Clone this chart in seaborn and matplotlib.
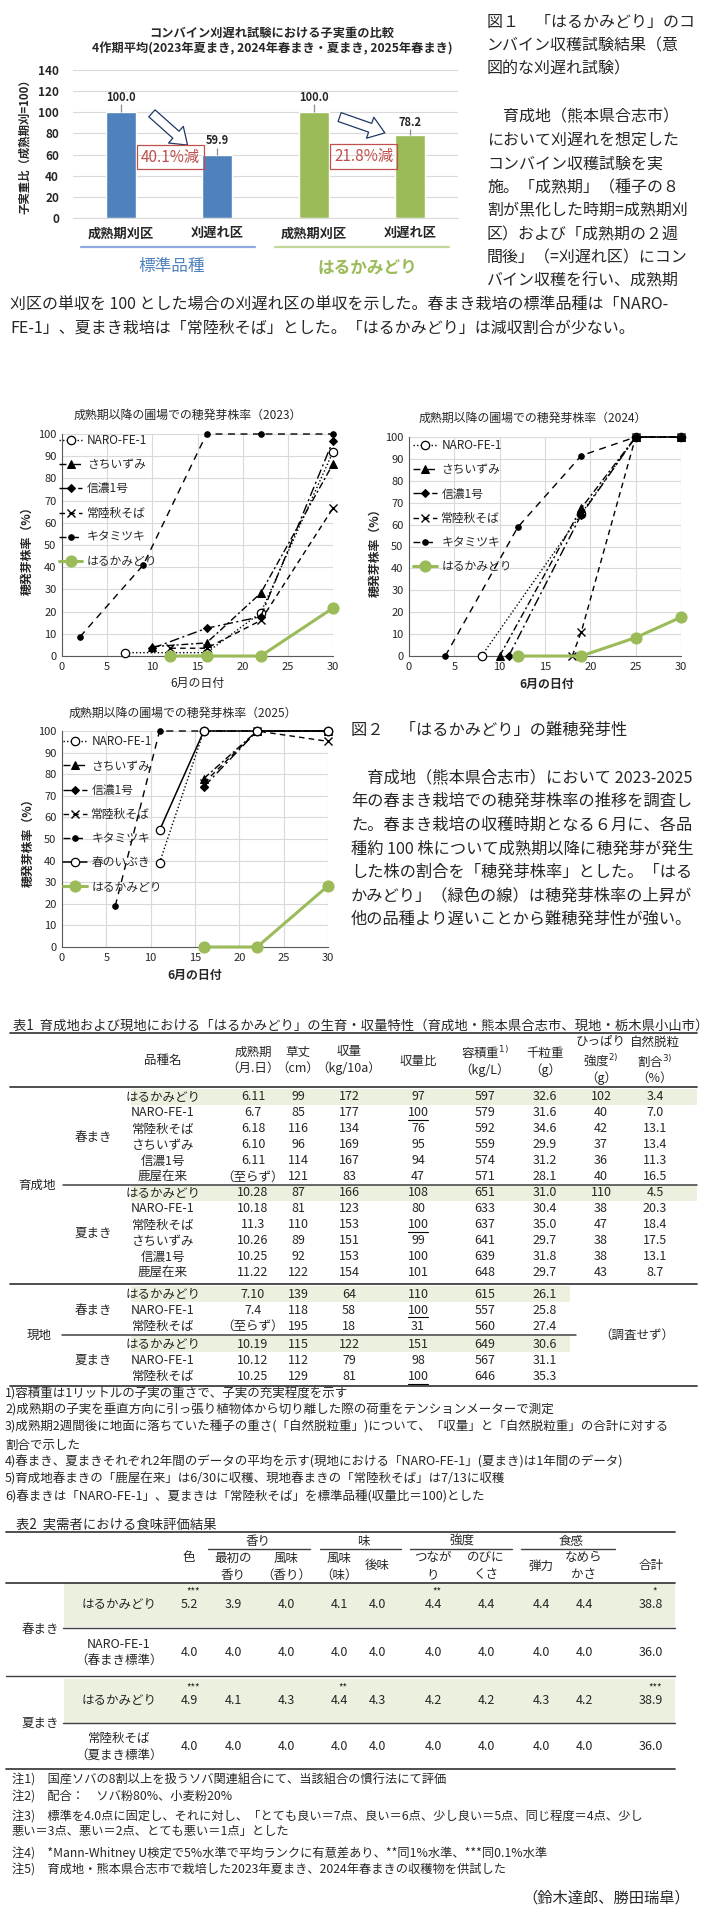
import numpy as np
import matplotlib
matplotlib.use('Agg')
import matplotlib.pyplot as plt
import seaborn as sns
from matplotlib.lines import Line2D
from matplotlib.patches import Rectangle

sns.set_style('white')
plt.rcParams['font.family'] = ['Noto Sans CJK JP', 'DejaVu Sans']
plt.rcParams['mathtext.fontset'] = 'dejavusans'
plt.rcParams['axes.unicode_minus'] = False

BLUE = '#4F81BD'
GREEN = '#9BBB59'
SHADE = '#EBF1DE'
RED = '#C0504D'
GRID = '#D9D9D9'
RULE = '#404040'

# ---------------- 図1 data
bar_keys = ['std_mature', 'std_late', 'haru_mature', 'haru_late']
bar_names = ['成熟期刈区', '刈遅れ区', '成熟期刈区', '刈遅れ区']
bar_values = [100.0, 59.9, 100.0, 78.2]
bar_err = [7.5, 6.5, 7.5, 6.0]
bar_colors = [BLUE, BLUE, GREEN, GREEN]
group_names = ['標準品種', 'はるかみどり']

# ---------------- 図2 data (6月の日付, 穂発芽株率 %)
x23_naro = [7, 16, 22, 30];          r23_naro = [1.5, 1.5, 19.5, 92]
x23_sachi = [10, 16, 22, 30];        r23_sachi = [4.2, 5.9, 28.3, 86.5]
x23_shinano = [10, 16, 22, 30];      r23_shinano = [3.5, 12.5, 17.7, 97]
x23_hitachi = [12, 16, 22, 30];      r23_hitachi = [3.5, 3.5, 16, 66.6]
x23_kita = [2, 9, 16, 22, 30];       r23_kita = [8.7, 41, 100, 100, 100]
x23_haru = [12, 16, 22, 30];         r23_haru = [0, 0, 0, 21.6]

x24_naro = [8, 19, 25, 30];          r24_naro = [0, 65, 100, 100]
x24_sachi = [10, 19, 25, 30];        r24_sachi = [0, 67.5, 100, 100]
x24_shinano = [11, 19, 25, 30];      r24_shinano = [0, 64.5, 100, 100]
x24_hitachi = [18, 19, 25, 30];      r24_hitachi = [0, 11, 100, 100]
x24_kita = [4, 12, 19, 25, 30];      r24_kita = [0, 58.8, 91.5, 100, 100]
x24_haru = [12, 19, 25, 30];         r24_haru = [0, 0, 8.4, 17.7]

x25_naro = [11, 16, 22, 30];         r25_naro = [39, 100, 100, 100]
x25_sachi = [16, 22, 30];            r25_sachi = [78, 100, 100]
x25_shinano = [16, 22, 30];          r25_shinano = [74.2, 100, 100]
x25_hitachi = [16, 22, 30];          r25_hitachi = [76, 100, 95.2]
x25_kita = [6, 11, 16, 22, 30];      r25_kita = [18.9, 100, 100, 100, 100]
x25_haruibuki = [11, 16, 22, 30];    r25_haruibuki = [54, 100, 100, 100]
x25_haru = [16, 22, 30];             r25_haru = [0, 0, 28.3]

STYLE = {
    'NARO-FE-1': dict(color='black', lw=1.0, linestyle=(0, (1, 1.6)), marker='o', ms=6,
                      mfc='white', mec='black', mew=0.9),
    'さちいずみ': dict(color='black', lw=1.0, linestyle=(0, (5, 2, 1.5, 2)), marker='^', ms=5.5,
                    mfc='black', mec='black'),
    '信濃1号': dict(color='black', lw=1.0, linestyle=(0, (7, 2.5, 1.5, 2.5)), marker='D', ms=4.2,
                  mfc='black', mec='black'),
    '常陸秋そば': dict(color='black', lw=1.0, linestyle=(0, (4, 3)), marker='x', ms=6,
                   mec='black', mew=1.0),
    'キタミツキ': dict(color='black', lw=1.0, linestyle=(0, (5, 4)), marker='o', ms=4,
                   mfc='black', mec='black'),
    '春のいぶき': dict(color='black', lw=1.1, linestyle='-', marker='o', ms=6,
                   mfc='white', mec='black', mew=0.9),
    'はるかみどり': dict(color=GREEN, lw=2.2, linestyle='-', marker='o', ms=8,
                     mfc=GREEN, mec=GREEN),
}

# ---------------- 表1 data
t1_names = ['はるかみどり', 'NARO-FE-1', '常陸秋そば', 'さちいずみ', '信濃1号', '鹿屋在来']
t1_sp_mat = ['6.11', '6.7', '6.18', '6.10', '6.11', '（至らず）']
t1_sp_len = [99, 85, 116, 96, 114, 121]
t1_sp_yld = [172, 177, 134, 169, 167, 83]
t1_sp_rat = [97, 100, 76, 95, 94, 47]
t1_sp_vol = [597, 579, 592, 559, 574, 571]
t1_sp_tkw = [32.6, 31.6, 34.6, 29.9, 31.2, 28.1]
t1_sp_pul = [102, 40, 42, 37, 36, 40]
t1_sp_sht = [3.4, 7.0, 13.1, 13.4, 11.3, 16.5]

t1_su_mat = ['10.28', '10.18', '11.3', '10.26', '10.25', '11.22']
t1_su_len = [87, 81, 110, 89, 92, 122]
t1_su_yld = [166, 123, 153, 151, 153, 154]
t1_su_rat = [108, 80, 100, 99, 100, 101]
t1_su_vol = [651, 633, 637, 641, 639, 648]
t1_su_tkw = [31.0, 30.4, 35.0, 29.7, 31.8, 29.7]
t1_su_pul = [110, 38, 47, 38, 38, 43]
t1_su_sht = [4.5, 20.3, 18.4, 17.5, 13.1, 8.7]

t1_local_names = ['はるかみどり', 'NARO-FE-1', '常陸秋そば']
t1_lsp_mat = ['7.10', '7.4', '（至らず）']
t1_lsp_len = [139, 118, 195]
t1_lsp_yld = [64, 58, 18]
t1_lsp_rat = [110, 100, 31]
t1_lsp_vol = [615, 557, 560]
t1_lsp_tkw = [26.1, 25.8, 27.4]
t1_lsu_mat = ['10.19', '10.12', '10.25']
t1_lsu_len = [115, 112, 129]
t1_lsu_yld = [122, 79, 81]
t1_lsu_rat = [151, 98, 100]
t1_lsu_vol = [649, 567, 646]
t1_lsu_tkw = [30.6, 31.1, 35.3]
std_spring = 'NARO-FE-1'
std_summer = '常陸秋そば'

t1_notes = [
    '1)容積重は1リットルの子実の重さで、子実の充実程度を示す',
    '2)成熟期の子実を垂直方向に引っ張り植物体から切り離した際の荷重をテンションメーターで測定',
    '3)成熟期2週間後に地面に落ちていた種子の重さ(「自然脱粒重」)について、「収量」と「自然脱粒重」の合計に対する',
    '割合で示した',
    '4)春まき、夏まきそれぞれ2年間のデータの平均を示す(現地における「NARO-FE-1」(夏まき)は1年間のデータ)',
    '5)育成地春まきの「鹿屋在来」は6/30に収穫、現地春まきの「常陸秋そば」は7/13に収穫',
    '6)春まきは「NARO-FE-1」、夏まきは「常陸秋そば」を標準品種(収量比＝100)とした',
]

# ---------------- 表2 data
t2_labels = ['はるかみどり', 'NARO-FE-1\n（春まき標準）', 'はるかみどり', '常陸秋そば\n（夏まき標準）']
t2_spring_haru = [5.2, 3.9, 4.0, 4.1, 4.0, 4.4, 4.4, 4.4, 4.4, 38.8]
t2_spring_std = [4.0, 4.0, 4.0, 4.0, 4.0, 4.0, 4.0, 4.0, 4.0, 36.0]
t2_summer_haru = [4.9, 4.1, 4.3, 4.4, 4.3, 4.2, 4.2, 4.3, 4.2, 38.9]
t2_summer_std = [4.0, 4.0, 4.0, 4.0, 4.0, 4.0, 4.0, 4.0, 4.0, 36.0]
t2_spring_sig = {0: '***', 5: '**', 9: '*'}
t2_summer_sig = {0: '***', 3: '**', 9: '***'}
t2_notes = [
    '注1)　国産ソバの8割以上を扱うソバ関連組合にて、当該組合の慣行法にて評価',
    '注2)　配合：　ソバ粉80%、小麦粉20%',
    '注3)　標準を4.0点に固定し、それに対し、「とても良い＝7点、良い＝6点、少し良い＝5点、同じ程度＝4点、少し',
    '悪い＝3点、悪い＝2点、とても悪い＝1点」とした',
    '注4)　*Mann-Whitney U検定で5%水準で平均ランクに有意差あり、**同1%水準、***同0.1%水準',
    '注5)　育成地・熊本県合志市で栽培した2023年夏まき、2024年春まきの収穫物を供試した',
]

# ================= page helpers (pixel coords from top-left)
W, H = 705, 1920
fig = plt.figure(figsize=(W / 100, H / 100), dpi=100)
fig.patch.set_facecolor('white')


def put(x, y, s, size=9, ha='left', va='center', **kw):
    return fig.text(x / W, 1 - y / H, s, fontsize=size, ha=ha, va=va, **kw)


def hline(y, x0, x1, lw=1.0, color=RULE):
    fig.add_artist(Line2D([x0 / W, x1 / W], [1 - y / H, 1 - y / H], lw=lw, color=color))


def shade(x0, x1, y0, y1, color=SHADE):
    fig.add_artist(Rectangle((x0 / W, 1 - y1 / H), (x1 - x0) / W, (y1 - y0) / H,
                             facecolor=color, edgecolor='none', zorder=0))


def add_ax(x0, y0, x1, y1):
    return fig.add_axes([x0 / W, 1 - y1 / H, (x1 - x0) / W, (y1 - y0) / H])


# ================= 図1 bar chart
ax = add_ax(73, 70, 458, 218)
sns.barplot(x=bar_keys, y=bar_values, hue=bar_keys, palette=bar_colors, width=0.31,
            saturation=1, legend=False, ax=ax, zorder=2)
ax.errorbar(np.arange(len(bar_values)), bar_values, yerr=[np.zeros(len(bar_err)), bar_err],
            fmt='none', ecolor='#8C8C8C', elinewidth=0.9, capsize=0, zorder=3)
for i, (v, e) in enumerate(zip(bar_values, bar_err)):
    ax.text(i, v + e + 0.3, f'{v:.1f}', ha='center', va='bottom', fontsize=8, fontweight='bold')
ax.set_ylim(0, 140)
ax.set_xlim(-0.5, 3.5)
ax.set_yticks(range(0, 141, 20))
ax.set_xticks(range(len(bar_names)))
ax.set_xticklabels(bar_names, fontsize=9.5, fontweight='bold')
for lab in ax.get_yticklabels():
    lab.set_fontweight('bold')
    lab.set_fontsize(8.5)
ax.yaxis.grid(True, color=GRID, lw=0.8)
ax.set_axisbelow(True)
for s in ax.spines.values():
    s.set_visible(False)
ax.spines['bottom'].set_visible(True)
ax.spines['bottom'].set_color(GRID)
ax.tick_params(axis='y', length=0, pad=10)
ax.tick_params(axis='x', length=0, pad=6)
ax.set_xlabel('')
ax.set_ylabel('子実重比（成熟期刈=100）', fontsize=8.2, fontweight='bold')
ax.yaxis.set_label_coords(-0.11, 0.5)

# reduction arrows and boxes
arrow_from = [(0.32, 99), (2.27, 95.5)]
arrow_to = [(0.69, 69), (2.74, 80.5)]
box_pos = [(0.51, 57.7), (2.52, 58.2)]
for (xa, ya), (xb, yb) in zip(arrow_from, arrow_to):
    ax.annotate('', xy=(xb, yb), xytext=(xa, ya),
                arrowprops=dict(arrowstyle='simple,head_length=0.7,head_width=1.0,tail_width=0.42',
                                fc='white', ec='#1F3864', lw=0.9, mutation_scale=16,
                                shrinkA=0, shrinkB=0), zorder=4)
for (bx, by), late in zip(box_pos, [bar_values[1], bar_values[3]]):
    ax.text(bx, by, f'{100 - late:.1f}%減', ha='center', va='center', fontsize=11, color=RED,
            bbox=dict(boxstyle='square,pad=0.25', fc='none', ec=RED, lw=0.9), zorder=5)

put(272, 33, 'コンバイン刈遅れ試験における子実重の比較', 8.8, ha='center', fontweight='bold')
put(272, 49, '4作期平均(2023年夏まき, 2024年春まき・夏まき, 2025年春まき)', 8.8, ha='center',
    fontweight='bold')
hline(247, 81, 255, lw=1.6, color='#8EA9DB')
hline(247, 275, 449, lw=1.6, color='#C4D79B')
put(172, 267, group_names[0], 12, ha='center', color=BLUE)
put(367, 267, group_names[1], 12, ha='center', color=GREEN, fontweight='bold')

fig1_caption = ['図１　「はるかみどり」のコ', 'ンバイン収穫試験結果（意', '図的な刈遅れ試験）']
for k, line in enumerate(fig1_caption):
    put(487, 23 + 23 * k, line, 11.5)
fig1_body = ['　育成地（熊本県合志市）', 'において刈遅れを想定した', 'コンバイン収穫試験を実',
             '施。「成熟期」（種子の８', '割が黒化した時期=成熟期刈', '区）および「成熟期の２週',
             '間後」（=刈遅れ区）にコン', 'バイン収穫を行い、成熟期']
for k, line in enumerate(fig1_body):
    put(487, 117 + 23.5 * k, line, 11.5)
put(10, 305, '刈区の単収を 100 とした場合の刈遅れ区の単収を示した。春まき栽培の標準品種は「NARO-', 11.5)
put(10, 328, 'FE-1」、夏まき栽培は「常陸秋そば」とした。「はるかみどり」は減収割合が少ない。', 11.5)


# ================= 図2 line charts
def sprout_chart(ax, series, legend_anchor):
    for name, xs, ys in series:
        sns.lineplot(x=xs, y=ys, ax=ax, label=name, errorbar=None, clip_on=False,
                     zorder=4 if name == 'はるかみどり' else 3, **STYLE[name])
    ax.set_xlim(0, 30)
    ax.set_ylim(0, 100)
    ax.set_xticks(range(0, 31, 5))
    ax.set_yticks(range(0, 101, 10))
    ax.grid(True, color=GRID, lw=0.8)
    ax.set_axisbelow(True)
    for side in ['top', 'right']:
        ax.spines[side].set_visible(False)
    for side in ['left', 'bottom']:
        ax.spines[side].set_color('#595959')
        ax.spines[side].set_linewidth(0.8)
    ax.tick_params(length=0, labelsize=8, pad=4)
    ax.set_xlabel('')
    ax.set_ylabel('')
    ax.legend(loc='upper left', bbox_to_anchor=legend_anchor, frameon=False, fontsize=8.5,
              handlelength=2.0, handletextpad=0.4, labelspacing=0.95, borderaxespad=0,
              borderpad=0)


ax23 = add_ax(62, 434, 333, 656)
sprout_chart(ax23, [('NARO-FE-1', x23_naro, r23_naro), ('さちいずみ', x23_sachi, r23_sachi),
                    ('信濃1号', x23_shinano, r23_shinano), ('常陸秋そば', x23_hitachi, r23_hitachi),
                    ('キタミツキ', x23_kita, r23_kita), ('はるかみどり', x23_haru, r23_haru)],
             (-0.012, 1.0))
put(188, 415, '成熟期以降の圃場での穂発芽株率（2023）', 8.6, ha='center')
put(197, 683, '6月の日付', 8.6, ha='center')
put(27, 548, '穂発芽株率（%）', 8.6, ha='center', rotation=90, fontweight='bold')

ax24 = add_ax(409, 437, 681, 656)
sprout_chart(ax24, [('NARO-FE-1', x24_naro, r24_naro), ('さちいずみ', x24_sachi, r24_sachi),
                    ('信濃1号', x24_shinano, r24_shinano), ('常陸秋そば', x24_hitachi, r24_hitachi),
                    ('キタミツキ', x24_kita, r24_kita), ('はるかみどり', x24_haru, r24_haru)],
             (0.015, 0.99))
put(533, 418, '成熟期以降の圃場での穂発芽株率（2024）', 8.6, ha='center')
put(547, 684, '6月の日付', 8.6, ha='center', fontweight='bold')
put(375, 550, '穂発芽株率（%）', 8.6, ha='center', rotation=90, fontweight='bold')

ax25 = add_ax(62, 731, 328, 947)
sprout_chart(ax25, [('NARO-FE-1', x25_naro, r25_naro), ('さちいずみ', x25_sachi, r25_sachi),
                    ('信濃1号', x25_shinano, r25_shinano), ('常陸秋そば', x25_hitachi, r25_hitachi),
                    ('キタミツキ', x25_kita, r25_kita), ('春のいぶき', x25_haruibuki, r25_haruibuki),
                    ('はるかみどり', x25_haru, r25_haru)],
             (0.004, 0.98))
put(183, 713, '成熟期以降の圃場での穂発芽株率（2025）', 8.6, ha='center')
put(195, 975, '6月の日付', 8.6, ha='center', fontweight='bold')
put(28, 840, '穂発芽株率（%）', 8.6, ha='center', rotation=90, fontweight='bold')

put(351, 730, '図２　「はるかみどり」の難穂発芽性', 11.7)
fig2_body = ['　育成地（熊本県合志市）において 2023-2025', '年の春まき栽培での穂発芽株率の推移を調査し',
             'た。春まき栽培の収穫時期となる６月に、各品', '種約 100 株について成熟期以降に穂発芽が発生',
             'した株の割合を「穂発芽株率」とした。「はる', 'かみどり」（緑色の線）は穂発芽株率の上昇が',
             '他の品種より遅いことから難穂発芽性が強い。']
for k, line in enumerate(fig2_body):
    put(351, 778 + 23.5 * k, line, 11.7)

# ================= 表1
T1 = 9
put(13, 1026, '表1  育成地および現地における「はるかみどり」の生育・収量特性（育成地・熊本県合志市、現地・栃木県小山市）', 9.6)
hline(1033, 10, 697, lw=1.3)
col_x = [253, 298, 349, 418, 485, 545, 601, 655]
name_x = 163
put(name_x, 1060, '品種名', T1, ha='center')
hdr = [('成熟期', '（月.日）'), ('草丈', '（cm）'), ('収量', '（kg/10a）')]
for cx, (a, b) in zip(col_x[:3], hdr):
    put(cx, 1052, a, T1, ha='center')
    put(cx, 1068, b, T1, ha='center')
put(col_x[3], 1062, '収量比', T1, ha='center')
put(col_x[4], 1053, '容積重$^{1)}$', T1, ha='center')
put(col_x[4], 1070, '（kg/L）', T1, ha='center')
put(col_x[5], 1053, '千粒重', T1, ha='center')
put(col_x[5], 1070, '（g）', T1, ha='center')
put(col_x[6], 1042, 'ひっぱり', T1, ha='center')
put(col_x[6], 1061, '強度$^{2)}$', T1, ha='center')
put(col_x[6], 1078, '（g）', T1, ha='center')
put(col_x[7], 1042, '自然脱粒', T1, ha='center')
put(col_x[7], 1061, '割合$^{3)}$', T1, ha='center')
put(col_x[7], 1078, '（%）', T1, ha='center')
hline(1087, 10, 697, lw=1.3)

t1_blocks = [
    (1097, 16.0, t1_names, [t1_sp_mat, t1_sp_len, t1_sp_yld, t1_sp_rat, t1_sp_vol, t1_sp_tkw,
                            t1_sp_pul, t1_sp_sht], std_spring, 697),
    (1193, 16.0, t1_names, [t1_su_mat, t1_su_len, t1_su_yld, t1_su_rat, t1_su_vol, t1_su_tkw,
                            t1_su_pul, t1_su_sht], std_summer, 697),
    (1294, 16.3, t1_local_names, [t1_lsp_mat, t1_lsp_len, t1_lsp_yld, t1_lsp_rat, t1_lsp_vol,
                                  t1_lsp_tkw], std_spring, 570),
    (1344, 16.3, t1_local_names, [t1_lsu_mat, t1_lsu_len, t1_lsu_yld, t1_lsu_rat, t1_lsu_vol,
                                  t1_lsu_tkw], std_summer, 570),
]
fmts = ['{}', '{}', '{}', '{}', '{}', '{:.1f}', '{}', '{:.1f}']
for y0, pitch, names, cols, std, sh_right in t1_blocks:
    for r, name in enumerate(names):
        y = y0 + pitch * r
        if name == 'はるかみどり':
            shade(131, sh_right, y - 7.8, y + 7.8)
        put(name_x, y, name, T1, ha='center')
        for c, col in enumerate(cols):
            put(col_x[c], y, fmts[c].format(col[r]), T1, ha='center')
            if c == 3 and name == std:
                hline(y + 7, col_x[c] - 10, col_x[c] + 10, lw=0.8, color='black')
    put(93, y0 + pitch * (len(names) - 1) / 2, '春まき' if std == std_spring else '夏まき', T1,
        ha='center')
put(37, 1185, '育成地', T1, ha='center')
hline(1185, 63, 697, lw=1.1)
hline(1284, 10, 697, lw=1.3)
put(39, 1335, '現地', T1, ha='center')
hline(1335, 62, 576, lw=1.1)
put(637, 1335, '（調査せず）', T1, ha='center')
hline(1386, 10, 697, lw=1.3)
note_y = [1393, 1410, 1427, 1445, 1462, 1479, 1497]
for y, line in zip(note_y, t1_notes):
    put(5, y, line, 9)

# ================= 表2
T2R = 675
put(16, 1525, '表2  実需者における食味評価結果', 9.6)
hline(1532, 6, T2R, lw=1.3)
t2_x = [189, 233, 286, 339, 377, 433, 486, 541, 584, 651]
groups2 = [('香り', 258, 208, 310), ('味', 363, 320, 401), ('強度', 462, 410, 512),
           ('食感', 571, 521, 615)]
for g, gx, g0, g1 in groups2:
    put(gx, 1541, g, 9, ha='center')
    hline(1549, g0, g1, lw=1.0)
sub2 = [('色', None), ('最初の', '香り'), ('風味', '（香り）'), ('風味', '（味）'), ('後味', None),
        ('つなが', 'り'), ('のびに', 'くさ'), ('弾力', None), ('なめら', 'かさ'), ('合計', None)]
for cx, (a, b) in zip(t2_x, sub2):
    if b is None:
        put(cx, 1558 if a == '色' else 1566, a, 9, ha='center')
    else:
        put(cx, 1558, a, 9, ha='center')
        put(cx, 1575, b, 9, ha='center')
hline(1583, 6, T2R, lw=1.3)

t2_rows = [(1604, t2_labels[0], t2_spring_haru, t2_spring_sig, True),
           (1653, t2_labels[1], t2_spring_std, {}, False),
           (1700, t2_labels[2], t2_summer_haru, t2_summer_sig, True),
           (1747, t2_labels[3], t2_summer_std, {}, False)]
for y, label, vals, sig, hi in t2_rows:
    if hi:
        shade(64, T2R, y - 21, y + 23)
    put(119, y, label, 9, ha='center', linespacing=1.35)
    for c, v in enumerate(vals):
        put(t2_x[c], y, f'{v:.1f}', 9, ha='center')
        if c in sig:
            put(t2_x[c] + 4, y - 13, sig[c], 7, ha='center')
put(40, 1630, '春まき', 9, ha='center')
hline(1628, 63, T2R, lw=1.0)
hline(1676, 6, T2R, lw=1.0)
put(40, 1723, '夏まき', 9, ha='center')
hline(1723, 63, T2R, lw=1.0)
hline(1769, 6, T2R, lw=1.3)
note2_y = [1780, 1796, 1816, 1832, 1853, 1869]
for y, line in zip(note2_y, t2_notes):
    put(12, y, line, 8.8)
put(690, 1898, '（鈴木達郎、勝田瑞皐）', 11, ha='right')

fig.savefig('out.png', dpi=100, facecolor='white')
